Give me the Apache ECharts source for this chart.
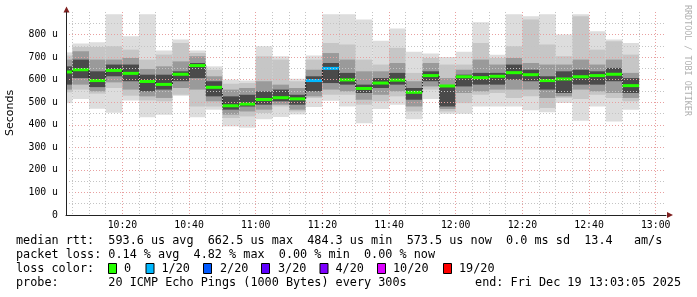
<!DOCTYPE html>
<html><head><meta charset="utf-8">
<script src="https://cdn.jsdelivr.net/npm/echarts@6/dist/echarts.min.js"></script>
<style>html,body{margin:0;padding:0;background:#fff}#c{width:697px;height:297px}</style>
</head><body><div id="c"></div>
<script>
// ---- data (µs) ----
const binEnd = ['10:05','10:10','10:15','10:20','10:25','10:30','10:35','10:40','10:45','10:50',
  '10:55','11:00','11:05','11:10','11:15','11:20','11:25','11:30','11:35','11:40',
  '11:45','11:50','11:55','12:00','12:05','12:10','12:15','12:20','12:25','12:30',
  '12:35','12:40','12:45','12:50','12:55'];
const median  = [634,644,596,641,628,592,579,624,662.5,566,484.3,492,512,520,515,596,650,599,561,585,598,544,618,572,613,609,615,631,622,596,603,613,618,624,573.5];
const rttMax  = [721,760,766,890,793,890,729,778,729,659,600,596,748,704,604,707,890,890,867,773,827,724,716,701,724,855,711,890,881,890,800,890,815,778,763];
const rttUp2  = [707,745,745,748,733,689,711,763,718,644,582,585,704,689,593,689,763,756,689,667,741,630,696,667,667,763,696,748,867,756,704,881,733,770,711];
const rttUp3  = [689,726,689,689,696,647,659,681,704,615,556,563,593,578,563,644,718,689,637,637,674,593,674,607,644,689,667,696,674,667,667,689,667,689,630];
const coreTop = [659,689,637,667,667,622,622,637,674,593,526,533,548,556,533,615,674,630,578,607,630,563,637,570,622,630,630,667,644,615,637,644,637,652,607];
const coreBot = [578,607,567,615,593,548,556,593,607,526,467,481,489,504,489,548,585,578,541,563,578,511,593,481,570,578,578,600,593,556,541,578,578,593,541];
const rttLo3  = [556,578,548,588,556,526,519,563,556,504,445,459,467,489,467,526,556,548,511,533,548,481,570,470,541,548,556,556,556,519,526,556,548,541,519];
const rttLo2  = [544,556,538,563,529,508,504,533,481,481,430,437,452,481,459,519,533,533,489,504,526,459,556,459,496,533,541,519,526,474,519,514,533,519,504];
const rttMin  = [496,514,471,453,508,433,445,529,433,467,393,387,425,434,446,479,507,481,407,470,489,425,514,449,449,481,481,481,464,455,496,418,481,415,467];
const lossCount = [0,0,0,0,0,0,0,0,0,0,0,0,0,0,0,1,1,0,0,0,0,0,0,0,0,0,0,0,0,0,0,0,0,0,0];
const yTickValues = [0,100,200,300,400,500,600,700,800];
const legendLoss = ['0','1/20','2/20','3/20','4/20','10/20','19/20'];
const legendColors = ['#26ff00','#00b8ff','#0059ff','#5e00ff','#7e00ff','#dd00ff','#ff0000'];
const statRtt = ['593.6','662.5','484.3','573.5'];
const statLoss = ['0.14','4.82','0.00','0.00'];
const statSd = '0.0', statAmS = '13.4';
const endStamp = 'Fri Dec 19 13:03:05 2025';

// ---- helpers ----
const X_MIN = 3 + 5/60, X_MAX = 183 + 5/60;
function toMin(s){ const p = s.split(':').map(Number); return (p[0]-10)*60 + p[1]; }
function lossColor(n){ if(n<=0) return legendColors[0]; if(n<=4) return legendColors[n]; if(n<=10) return legendColors[5]; return legendColors[6]; }
const data = binEnd.map((t,i)=>[Math.max(toMin(t)-5, X_MIN), toMin(t), rttMin[i], rttLo2[i], rttLo3[i], coreBot[i], median[i], coreTop[i], rttUp3[i], rttUp2[i], rttMax[i], lossCount[i], i>0?median[i-1]:median[i], i]);

const MONO = '"DejaVu Sans Mono", monospace';
const chart = echarts.init(document.getElementById('c'), null, {renderer:'canvas', width:697, height:297});

function renderItem(params, api){
  const x0 = api.value(0), x1 = api.value(1);
  function rect(lo, hi, color){
    const a = api.coord([x0, hi]), b = api.coord([x1, lo]);
    return {type:'rect', shape:{x:a[0], y:a[1], width:b[0]-a[0], height:b[1]-a[1]}, style:{fill:color}};
  }
  const med = api.value(6), prev = api.value(12), idx = api.value(13);
  const m0 = api.coord([x0, med]), m1 = api.coord([x1, med]);
  const children = [
    rect(api.value(2), api.value(10), '#dddddd'),
    rect(api.value(3), api.value(9), '#c6c6c6'),
    rect(api.value(4), api.value(8), '#9a9a9a'),
    rect(api.value(5), api.value(7), '#4a4a4a')
  ];
  if (idx > 0) {
    const p = api.coord([x0, prev]);
    children.push({type:'line', shape:{x1:p[0], y1:p[1], x2:m0[0], y2:m0[1]}, style:{stroke:'#111', lineWidth:1, lineDash:[2,1]}});
  }
  children.push({type:'line', shape:{x1:m0[0], y1:m0[1], x2:m1[0], y2:m1[1]}, style:{stroke:lossColor(api.value(11)), lineWidth:3}});
  return {type:'group', children};
}

function hhmm(v){ const t = Math.round(v) + 600; const h = Math.floor(t/60), m = t%60; return h + ':' + String(m).padStart(2,'0'); }

const LEG_Y = [241, 255, 269, 283];
const boxX = [108,145.5,203,261,319.5,377,443];
const labX = [124,161.5,220,278,335.5,393,459];
const graphics = [
  {type:'text', x:10, y:113, rotation:Math.PI/2, style:{text:'Seconds', font:'11px "DejaVu Sans"', fill:'#000', align:'center', verticalAlign:'middle'}},
  {type:'text', x:687, y:5, rotation:-Math.PI/2, style:{text:'RRDTOOL / TOBI OETIKER', font:'8.4px '+MONO, fill:'#b0b0b0', align:'left', verticalAlign:'middle'}},
  {type:'polygon', shape:{points:[[63.5,12.5],[69.5,12.5],[66.5,6.5]]}, style:{fill:'#7f1f1f'}},
  {type:'polygon', shape:{points:[[667,212],[667,218],[673,215]]}, style:{fill:'#7f1f1f'}},
  {type:'text', x:16, y:LEG_Y[0], style:{text:'median rtt:  '+statRtt[0]+' us avg  '+statRtt[1]+' us max  '+statRtt[2]+' us min  '+statRtt[3]+' us now  '+statSd+' ms sd  '+statAmS+'   am/s', font:'11.8px '+MONO, fill:'#000', verticalAlign:'middle'}},
  {type:'text', x:16, y:LEG_Y[1], style:{text:'packet loss: '+statLoss[0]+' % avg  '+statLoss[1]+' % max  '+statLoss[2]+' % min  '+statLoss[3]+' % now', font:'11.8px '+MONO, fill:'#000', verticalAlign:'middle'}},
  {type:'text', x:16, y:LEG_Y[2], style:{text:'loss color:', font:'11.8px '+MONO, fill:'#000', verticalAlign:'middle'}},
  {type:'text', x:16, y:LEG_Y[3], style:{text:'probe:       20 ICMP Echo Pings (1000 Bytes) every 300s', font:'11.8px '+MONO, fill:'#000', verticalAlign:'middle'}},
  {type:'text', x:681, y:LEG_Y[3], style:{text:'end: '+endStamp, font:'11.8px '+MONO, fill:'#000', align:'right', verticalAlign:'middle'}}
];
legendLoss.forEach((lab,i)=>{
  graphics.push({type:'rect', shape:{x:boxX[i]+0.5, y:LEG_Y[2]-5.5, width:8, height:10}, style:{fill:legendColors[i], stroke:'#000', lineWidth:1}});
  graphics.push({type:'text', x:labX[i], y:LEG_Y[2], style:{text:lab, font:'11.8px '+MONO, fill:'#000', verticalAlign:'middle'}});
});

chart.setOption({
  animation:false,
  backgroundColor:'#fff',
  grid:{left:66, top:12, width:600, height:203},
  xAxis:{type:'value', min:X_MIN, max:X_MAX, splitNumber:9, minInterval:20, maxInterval:20,
    axisLine:{show:true, onZero:false, lineStyle:{color:'#222', width:1}},
    axisTick:{show:false},
    axisLabel:{showMinLabel:false, showMaxLabel:false, formatter:hhmm, color:'#000', fontFamily:'DejaVu Sans Mono', fontSize:9.8, margin:5},
    splitLine:{show:true, showMinLine:false, showMaxLine:false, lineStyle:{color:'#e8a0a0', type:[1,2], width:1}},
    minorTick:{show:false, splitNumber:4},
    minorSplitLine:{show:true, lineStyle:{color:'#c4c4c4', type:[1,2], width:1}}
  },
  yAxis:{type:'value', min:0, max:900, interval:100,
    axisLine:{show:true, lineStyle:{color:'#222', width:1}},
    axisTick:{show:false},
    axisLabel:{showMaxLabel:false, formatter:v=> yTickValues.indexOf(v)<0 ? '' : (v===0?'0':v+' u'), color:'#000', fontFamily:'DejaVu Sans Mono', fontSize:9.8, margin:8},
    splitLine:{show:true, showMinLine:false, showMaxLine:false, lineStyle:{color:'#e8a0a0', type:[1,2], width:1}},
    minorTick:{show:false, splitNumber:2},
    minorSplitLine:{show:true, lineStyle:{color:'#c4c4c4', type:[1,2], width:1}}
  },
  series:[{type:'custom', z:-1, renderItem, data, clip:true}],
  graphic:graphics
});
</script></body></html>
